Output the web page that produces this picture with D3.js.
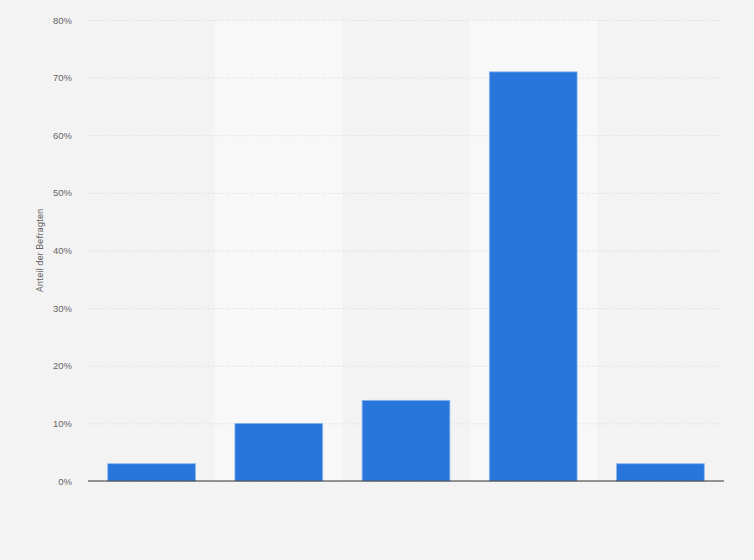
<!DOCTYPE html>
<html>
<head>
<meta charset="utf-8">
<script src="https://cdn.jsdelivr.net/npm/d3@7"></script>
<style>
  html, body { margin: 0; padding: 0; background: #f3f3f3; }
  svg { display: block; font-family: Roboto, "Liberation Sans", Arial, sans-serif; }
</style>
</head>
<body>
<svg id="chart" width="754" height="560"></svg>
<script>
// Categories have no visible labels in the chart
const categories = ["A", "B", "C", "D", "E"];
const values = [3, 10, 14, 71, 3];
const yTicks = [0, 10, 20, 30, 40, 50, 60, 70, 80];
const yLabel = "Anteil der Befragten";

const svg = d3.select("#chart");
const margin = { top: 20, right: 30, bottom: 79, left: 88 };
const width = 754 - margin.left - margin.right;
const height = 560 - margin.top - margin.bottom;

svg.append("rect").attr("width", 754).attr("height", 560).attr("fill", "#f3f3f3");

const g = svg.append("g").attr("transform", `translate(${margin.left},${margin.top})`);

const x = d3.scaleBand().domain(categories).range([0, width]).paddingInner(0).paddingOuter(0);
const y = d3.scaleLinear().domain([0, 80]).range([height, 0]);

// alternating lighter column bands (plot area only)
g.selectAll(".band")
  .data(categories.filter((d, i) => i % 2 === 1))
  .enter()
  .append("rect")
  .attr("class", "band")
  .attr("x", (d) => x(d))
  .attr("y", 0)
  .attr("width", x.bandwidth())
  .attr("height", height)
  .attr("fill", "#f8f8f8");

// dotted grid lines
g.append("g")
  .call(d3.axisLeft(y).tickValues(yTicks).tickSize(-width).tickFormat(""))
  .call((a) => a.select(".domain").remove())
  .call((a) =>
    a.selectAll(".tick line")
      .attr("stroke", "#d6d6d6")
      .attr("stroke-dasharray", "1,2")
  );

// y tick labels
g.append("g")
  .call(d3.axisLeft(y).tickValues(yTicks).tickSize(0).tickPadding(16).tickFormat((d) => d + "%"))
  .call((a) => a.select(".domain").remove())
  .call((a) =>
    a.selectAll(".tick text")
      .attr("fill", "#666")
      .attr("font-size", "9.5px")
  );

// bars
const barW = x.bandwidth() * 0.69;
g.selectAll(".bar")
  .data(values)
  .enter()
  .append("rect")
  .attr("class", "bar")
  .attr("x", (d, i) => x(categories[i]) + (x.bandwidth() - barW) / 2)
  .attr("y", (d) => y(d))
  .attr("width", barW)
  .attr("height", (d) => height - y(d))
  .attr("fill", "#2876dc")
  .attr("stroke", "#8db6ee")
  .attr("stroke-width", 0.8);

// baseline
g.append("line")
  .attr("x1", 0)
  .attr("x2", width)
  .attr("y1", y(0))
  .attr("y2", y(0))
  .attr("stroke", "#333")
  .attr("stroke-width", 1);

// y-axis title
svg.append("text")
  .attr("transform", `translate(43,${margin.top + height / 2}) rotate(-90)`)
  .attr("text-anchor", "middle")
  .attr("fill", "#666")
  .attr("font-size", "9.5px")
  .text(yLabel);
</script>
</body>
</html>
